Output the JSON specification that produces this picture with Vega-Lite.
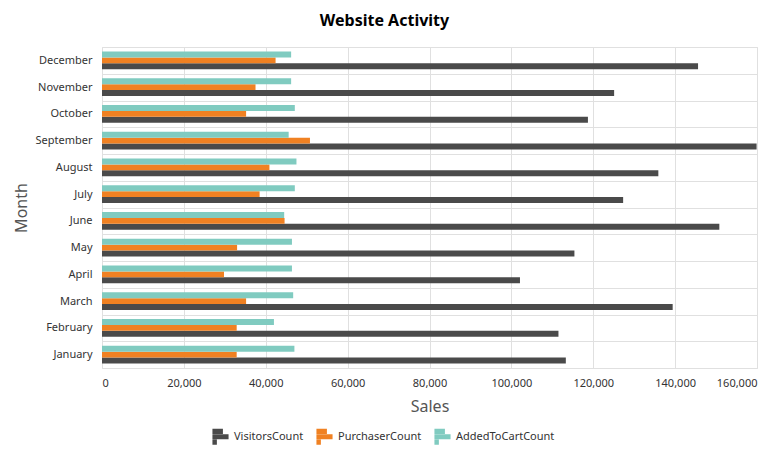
{
  "$schema": "https://vega.github.io/schema/vega-lite/v6.json",
  "autosize": {"type": "none"},
  "width": 655,
  "height": 321,
  "padding": {"left": 102, "top": 47, "right": 11, "bottom": 92},
  "title": {
    "text": "Website Activity",
    "fontSize": 16,
    "fontWeight": "bold",
    "font": "Noto Sans",
    "color": "#000000",
    "anchor": "middle",
    "frame": "group",
    "dx": -45,
    "offset": 12
  },
  "data": {
    "values": [
      {"month": "January", "series": "VisitorsCount", "value": 113300},
      {"month": "January", "series": "PurchaserCount", "value": 32900},
      {"month": "January", "series": "AddedToCartCount", "value": 47000},
      {"month": "February", "series": "VisitorsCount", "value": 111500},
      {"month": "February", "series": "PurchaserCount", "value": 32900},
      {"month": "February", "series": "AddedToCartCount", "value": 42000},
      {"month": "March", "series": "VisitorsCount", "value": 139400},
      {"month": "March", "series": "PurchaserCount", "value": 35200},
      {"month": "March", "series": "AddedToCartCount", "value": 46700},
      {"month": "April", "series": "VisitorsCount", "value": 102100},
      {"month": "April", "series": "PurchaserCount", "value": 29800},
      {"month": "April", "series": "AddedToCartCount", "value": 46400},
      {"month": "May", "series": "VisitorsCount", "value": 115400},
      {"month": "May", "series": "PurchaserCount", "value": 33000},
      {"month": "May", "series": "AddedToCartCount", "value": 46400},
      {"month": "June", "series": "VisitorsCount", "value": 150800},
      {"month": "June", "series": "PurchaserCount", "value": 44600},
      {"month": "June", "series": "AddedToCartCount", "value": 44500},
      {"month": "July", "series": "VisitorsCount", "value": 127300},
      {"month": "July", "series": "PurchaserCount", "value": 38500},
      {"month": "July", "series": "AddedToCartCount", "value": 47100},
      {"month": "August", "series": "VisitorsCount", "value": 135900},
      {"month": "August", "series": "PurchaserCount", "value": 40900},
      {"month": "August", "series": "AddedToCartCount", "value": 47500},
      {"month": "September", "series": "VisitorsCount", "value": 159900},
      {"month": "September", "series": "PurchaserCount", "value": 50800},
      {"month": "September", "series": "AddedToCartCount", "value": 45600},
      {"month": "October", "series": "VisitorsCount", "value": 118700},
      {"month": "October", "series": "PurchaserCount", "value": 35200},
      {"month": "October", "series": "AddedToCartCount", "value": 47100},
      {"month": "November", "series": "VisitorsCount", "value": 125100},
      {"month": "November", "series": "PurchaserCount", "value": 37500},
      {"month": "November", "series": "AddedToCartCount", "value": 46200},
      {"month": "December", "series": "VisitorsCount", "value": 145600},
      {"month": "December", "series": "PurchaserCount", "value": 42400},
      {"month": "December", "series": "AddedToCartCount", "value": 46200}
    ]
  },
  "mark": {"type": "bar"},
  "encoding": {
    "y": {
      "field": "month",
      "type": "nominal",
      "sort": ["December", "November", "October", "September", "August", "July", "June", "May", "April", "March", "February", "January"],
      "scale": {"paddingInner": 0, "paddingOuter": 0},
      "axis": {
        "title": "Month",
        "tickBand": "extent",
        "grid": true,
        "ticks": false,
        "domain": false,
        "labelPadding": 10,
        "titlePadding": 6
      }
    },
    "yOffset": {
      "field": "series",
      "type": "nominal",
      "sort": ["AddedToCartCount", "PurchaserCount", "VisitorsCount"],
      "scale": {"paddingOuter": 0.75, "paddingInner": 0}
    },
    "x": {
      "field": "value",
      "type": "quantitative",
      "scale": {"domain": [0, 160000]},
      "axis": {
        "title": "Sales",
        "tickCount": 8,
        "format": ",d",
        "ticks": false,
        "domain": false,
        "labelPadding": 9,
        "titlePadding": 10
      }
    },
    "color": {
      "field": "series",
      "type": "nominal",
      "scale": {
        "domain": ["VisitorsCount", "PurchaserCount", "AddedToCartCount"],
        "range": ["#4a4a4a", "#f08122", "#80cbc0"]
      },
      "legend": {
        "orient": "none",
        "legendX": 110,
        "legendY": 381,
        "direction": "horizontal",
        "title": null,
        "symbolType": "M-1,-1H0.3V-0.35H-1Z M-1,-0.3H1V0.3H-1Z M-1,0.35H-0.45V1H-1Z",
        "symbolSize": 260,
        "symbolStrokeWidth": 0,
        "columnPadding": 12,
        "labelOffset": 5,
        "labelFontSize": 11,
        "labelColor": "#333333",
        "labelFont": "Noto Sans"
      }
    }
  },
  "config": {
    "font": "Noto Sans",
    "view": {"stroke": "#dddddd"},
    "axis": {
      "gridColor": "#e0e0e0",
      "labelFontSize": 11,
      "labelColor": "#333333",
      "labelFont": "Noto Sans",
      "titleFontSize": 16,
      "titleFontWeight": "normal",
      "titleColor": "#555555",
      "titleFont": "Noto Sans"
    }
  }
}
